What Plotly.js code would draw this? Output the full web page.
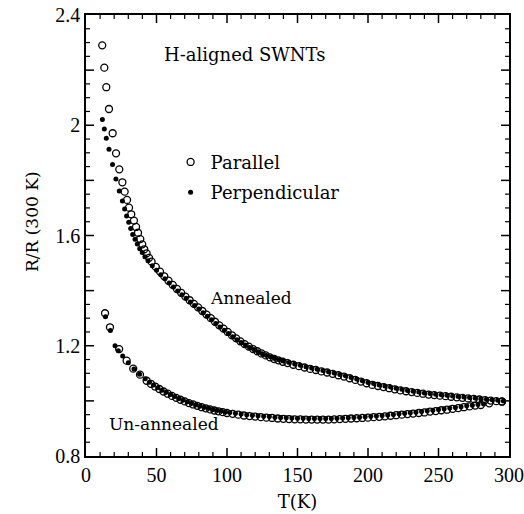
<!DOCTYPE html>
<html>
<head>
<meta charset="utf-8">
<script src="https://cdn.plot.ly/plotly-3.0.1.min.js"></script>
<style>html,body{margin:0;padding:0;background:#fff;}#chart{width:524px;height:514px;}</style>
</head>
<body>
<div id="chart"></div>
<script>
// Annealed, parallel (open circles)
const annParT = [11.5,13.0,14.4,16.3,18.9,21.3,23.6,25.8,27.4,29.1,30.5,32.1,34.0,35.5,36.9,38.5,39.9,41.3,43.0,44.7,
  46.5,49.5,52.5,55.5,58.5,61.5,64.5,67.5,70.5,73.5,76.5,79.5,82.5,85.5,88.5,91.5,94.5,97.5,100.5,103.5,106.5,109.5,112.5,115.5,118.5,121.5,124.5,127.5,130.5,133.5,136.5,139.5,
  143,147,151,155,159,163,167,171,175,179,183,187,191,195,199,203,207,211,215,219,223,227,231,235,239,243,247,251,255,259,263,267,271,275,279,283,287,291,295];
const annParR = [2.290,2.209,2.138,2.059,1.971,1.898,1.840,1.793,1.759,1.729,1.701,1.677,1.654,1.631,1.610,1.587,1.568,1.550,1.535,1.519,
  1.505,1.486,1.469,1.452,1.436,1.421,1.406,1.392,1.378,1.365,1.352,1.339,1.326,1.313,1.300,1.287,1.274,1.262,1.250,1.238,1.227,1.216,1.206,1.197,1.188,1.180,1.172,1.165,1.158,1.152,1.147,1.142,
  1.137,1.131,1.126,1.121,1.116,1.112,1.107,1.103,1.098,1.093,1.088,1.082,1.076,1.070,1.064,1.058,1.054,1.050,1.046,1.042,1.038,1.035,1.032,1.029,1.026,1.023,1.021,1.019,1.017,1.015,1.013,1.011,1.009,1.007,1.005,1.003,1.001,0.999,0.998];

// Annealed, perpendicular (filled dots)
const annPerpT = [11.6,13.0,14.4,16.3,18.8,21.2,23.6,25.8,27.4,28.8,30.3,31.7,33.1,34.8,36.4,38.1,39.9,41.8,
  44,47,50,53,56,59,62,65,68,71,74,77,80,83,86,89,92,95,98,101,104,107,110,113,116,119,122,125,128,131,134,137,140,
  144,148,152,156,160,164,168,172,176,180,184,188,192,196,200,204,208,212,216,220,224,228,232,236,240,244,248,252,256,260,264,268,272,276,280,284,288,292,296];
const annPerpR = [2.021,1.986,1.953,1.913,1.858,1.805,1.761,1.725,1.696,1.671,1.648,1.625,1.604,1.586,1.569,1.552,1.538,1.523,
  1.508,1.490,1.474,1.458,1.443,1.428,1.413,1.399,1.385,1.372,1.359,1.346,1.333,1.320,1.307,1.294,1.281,1.268,1.256,1.244,1.233,1.222,1.212,1.203,1.194,1.186,1.178,1.171,1.165,1.159,1.154,1.149,1.145,
  1.139,1.134,1.129,1.124,1.119,1.115,1.110,1.106,1.101,1.096,1.091,1.085,1.079,1.073,1.067,1.063,1.058,1.054,1.050,1.046,1.042,1.038,1.035,1.032,1.029,1.027,1.024,1.022,1.020,1.018,1.016,1.014,1.012,1.010,1.008,1.006,1.004,1.002,1.000];

// Un-annealed, parallel (open circles)
const unParT = [13.5,17.0,23.5,28.8,33.5,38.3,43.0,46,49,52,55,58,61,64,67,70,73,76,79,82,85,88,91,94,97,100,
  104,108,112,116,120,124,128,132,136,140,144,148,152,156,160,164,168,172,176,180,184,188,192,196,200,204,208,212,216,220,224,228,232,236,240,244,248,252,256,260,264,268,272,276,280,286,295];
const unParR = [1.318,1.267,1.188,1.146,1.117,1.095,1.073,1.062,1.052,1.043,1.034,1.026,1.018,1.011,1.004,0.998,0.992,0.987,0.982,0.977,0.973,0.969,0.965,0.962,0.959,0.956,
  0.953,0.950,0.947,0.945,0.943,0.941,0.939,0.938,0.936,0.935,0.934,0.933,0.933,0.932,0.932,0.932,0.932,0.932,0.933,0.934,0.935,0.936,0.937,0.938,0.939,0.941,0.942,0.944,0.946,0.948,0.950,0.952,0.954,0.956,0.958,0.961,0.963,0.966,0.968,0.971,0.974,0.977,0.980,0.983,0.985,0.991,0.997];

// Un-annealed, perpendicular (filled dots)
const unPerpT = [13.8,17.3,20.6,22.9,26,30,34,38,42,45,48,51,54,57,60,63,66,69,72,75,78,81,84,87,90,93,96,99,102,
  106,110,114,118,122,126,130,134,138,142,146,150,154,158,162,166,170,174,178,182,186,190,194,198,202,206,210,214,218,222,226,230,234,238,242,246,250,254,258,262,266,270,274,278,282];
const unPerpR = [1.305,1.255,1.200,1.182,1.163,1.138,1.116,1.097,1.080,1.068,1.058,1.048,1.039,1.031,1.023,1.016,1.009,1.003,0.997,0.991,0.986,0.981,0.977,0.973,0.969,0.966,0.963,0.960,0.958,
  0.955,0.952,0.950,0.948,0.946,0.944,0.943,0.941,0.940,0.939,0.938,0.937,0.937,0.936,0.936,0.936,0.936,0.936,0.937,0.938,0.939,0.940,0.941,0.942,0.944,0.945,0.947,0.949,0.951,0.953,0.955,0.957,0.959,0.961,0.964,0.966,0.969,0.971,0.974,0.976,0.979,0.982,0.984,0.987,0.989];

// Axis ticks
const xTickVals = [0,50,100,150,200,250,300];
const xTickText = ["0","50","100","150","200","250","300"];
const xMinorVals = [10,20,30,40,60,70,80,90,110,120,130,140,160,170,180,190,210,220,230,240,260,270,280,290];
const yTickVals = [0.8,1.0,1.2,1.4,1.6,1.8,2.0,2.2,2.4];
const yTickText = ["0.8","","1.2","","1.6","","2","","2.4"];
const yMinorVals = [0.85,0.9,0.95,1.05,1.1,1.15,1.25,1.3,1.35,1.45,1.5,1.55,1.65,1.7,1.75,1.85,1.9,1.95,2.05,2.1,2.15,2.25,2.3,2.35];

const openMarker = {symbol:'circle-open', size:7, color:'black', line:{color:'black', width:1.3}};
const dotMarker = {symbol:'circle', size:5, color:'black'};

const traces = [
  {x:unParT, y:unParR, type:'scatter', mode:'markers', marker:openMarker, name:'Parallel', showlegend:false, legendgroup:'par'},
  {x:unPerpT, y:unPerpR, type:'scatter', mode:'markers', marker:dotMarker, name:'Perpendicular', showlegend:false, legendgroup:'perp'},
  {x:annParT, y:annParR, type:'scatter', mode:'markers', marker:openMarker, name:'Parallel', legendgroup:'par'},
  {x:annPerpT, y:annPerpR, type:'scatter', mode:'markers', marker:dotMarker, name:'Perpendicular', legendgroup:'perp'}
];

// Inside tick marks on all four sides, placed through the axes' own scales (data value on one axis, pixel length on the other)
const MAJ = 8, MIN = 4;
const shapes = [];
function xTick(v, len, w){
  shapes.push({type:'line', xref:'x', yref:'paper', ysizemode:'pixel', yanchor:0, x0:v, x1:v, y0:0, y1:len, line:{color:'black', width:w}});
  shapes.push({type:'line', xref:'x', yref:'paper', ysizemode:'pixel', yanchor:1, x0:v, x1:v, y0:0, y1:-len, line:{color:'black', width:w}});
}
function yTick(v, len, w){
  shapes.push({type:'line', xref:'paper', yref:'y', xsizemode:'pixel', xanchor:0, x0:0, x1:len, y0:v, y1:v, line:{color:'black', width:w}});
  shapes.push({type:'line', xref:'paper', yref:'y', xsizemode:'pixel', xanchor:1, x0:0, x1:-len, y0:v, y1:v, line:{color:'black', width:w}});
}
xTickVals.slice(1, -1).forEach(v => xTick(v, MAJ, 1.5));
xMinorVals.forEach(v => xTick(v, MIN, 1.2));
yTickVals.slice(1, -1).forEach(v => yTick(v, MAJ, 1.5));
yMinorVals.forEach(v => yTick(v, MIN, 1.2));

const serif = 'DejaVu Serif';
const tickFont = {family:'Liberation Serif', size:20, color:'black'};

const layout = {
  width:524, height:514,
  margin:{l:86, r:15, t:15, b:58},
  paper_bgcolor:'white', plot_bgcolor:'white',
  font:{family:serif, size:18, color:'black'},
  showlegend:true,
  legend:{x:0.2, y:0.708, xanchor:'left', yanchor:'top', bgcolor:'rgba(0,0,0,0)', font:{family:serif, size:18}, tracegroupgap:4, traceorder:'grouped'},
  xaxis:{range:[0,300], tickmode:'array', tickvals:xTickVals, ticktext:xTickText, tickfont:tickFont, ticklabeloverflow:'allow',
    showline:true, linecolor:'black', linewidth:1.5, mirror:true, showgrid:false, zeroline:false,
    title:{text:'T(K)', font:{family:serif, size:18}, standoff:11}},
  yaxis:{range:[0.8,2.4], tickmode:'array', tickvals:yTickVals, ticktext:yTickText, tickfont:tickFont,
    showline:true, linecolor:'black', linewidth:1.5, mirror:true, showgrid:false, zeroline:false},
  shapes: shapes,
  annotations:[
    {x:20, y:222, xref:'paper', yref:'paper', text:'R/R (300 K)', showarrow:false, textangle:-90, font:{family:serif, size:17}},
    {x:53.9, y:2.255, xref:'x', yref:'y', text:'H-aligned SWNTs', showarrow:false, xanchor:'left', yanchor:'middle', font:{family:serif, size:18}},
    {x:86.5, y:1.373, xref:'x', yref:'y', text:'Annealed', showarrow:false, xanchor:'left', yanchor:'middle', font:{family:serif, size:17}},
    {x:15, y:0.916, xref:'x', yref:'y', text:'Un-annealed', showarrow:false, xanchor:'left', yanchor:'middle', font:{family:serif, size:17}}
  ]
};
// y-title annotation position given in pixels above; convert to paper coordinates
const pw = 524 - 86 - 15, ph = 514 - 15 - 58;
layout.annotations[0].x = (20 - 86) / pw;
layout.annotations[0].y = (514 - 58 - 222) / ph;

Plotly.newPlot('chart', traces, layout, {displayModeBar:false});
</script>
</body>
</html>
